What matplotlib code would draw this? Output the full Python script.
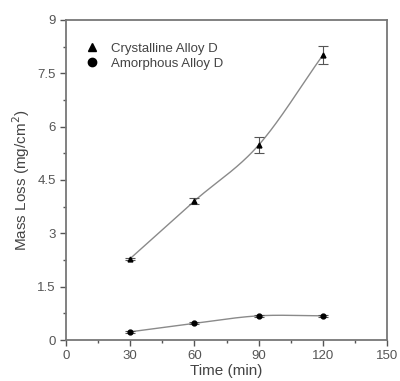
import numpy as np
import matplotlib.pyplot as plt
from matplotlib.lines import Line2D

plt.rcParams['font.family'] = ['Liberation Sans', 'DejaVu Sans']

time_min = [30, 60, 90, 120]
crystalline = [2.29, 3.91, 5.48, 8.01]
crystalline_err = [0.03, 0.08, 0.22, 0.25]
amorphous = [0.23, 0.47, 0.68, 0.68]
amorphous_err = [0.02, 0.03, 0.03, 0.03]

x_ticks = [0, 30, 60, 90, 120, 150]
y_ticks = [0, 1.5, 3, 4.5, 6, 7.5, 9]
y_labels = ['0', '1.5', '3', '4.5', '6', '7.5', '9']


def smooth(x, y, n=60):
    # catmull-rom style hermite curve through the points
    x = np.asarray(x, float)
    y = np.asarray(y, float)
    m = np.empty_like(y)
    m[1:-1] = (y[2:] - y[:-2]) / (x[2:] - x[:-2])
    m[0] = (y[1] - y[0]) / (x[1] - x[0])
    m[-1] = (y[-1] - y[-2]) / (x[-1] - x[-2])
    xs, ys = [], []
    for i in range(len(x) - 1):
        h = x[i + 1] - x[i]
        t = np.linspace(0, 1, n)
        h00 = 2 * t**3 - 3 * t**2 + 1
        h10 = t**3 - 2 * t**2 + t
        h01 = -2 * t**3 + 3 * t**2
        h11 = t**3 - t**2
        xs.append(x[i] + t * h)
        ys.append(h00 * y[i] + h10 * h * m[i] + h01 * y[i + 1] + h11 * h * m[i + 1])
    return np.concatenate(xs), np.concatenate(ys)


fig = plt.figure(figsize=(4, 3.81), dpi=100)
ax = fig.add_axes([0.165, 0.1076, 0.8025, 0.84])

xs, ys = smooth(time_min, crystalline)
ax.plot(xs, ys, color='#8a8a8a', lw=1.0)
xs, ys = smooth(time_min, amorphous)
ax.plot(xs, ys, color='#8a8a8a', lw=1.0)

ax.errorbar(time_min, crystalline, yerr=crystalline_err, fmt='^', color='black',
            ms=3.5, ecolor='#555555', elinewidth=0.8, capsize=3.6, capthick=0.8)
ax.errorbar(time_min, amorphous, yerr=amorphous_err, fmt='o', color='black',
            ms=3.5, ecolor='#555555', elinewidth=0.8, capsize=3.6, capthick=0.8)

ax.set_xlim(0, 150)
ax.set_ylim(0, 9)
ax.set_xticks(x_ticks)
ax.set_xticks(np.arange(15, 150, 30), minor=True)
ax.set_yticks(y_ticks)
ax.set_yticklabels(y_labels)
ax.set_yticks(np.arange(0.75, 9, 1.5), minor=True)

for s in ax.spines.values():
    s.set_color('#777777')
    s.set_linewidth(1.3)
ax.tick_params(which='both', direction='out', colors='#555555', labelsize=9.5,
               top=False, right=False)
ax.tick_params(which='major', length=4, width=1)
ax.tick_params(which='minor', length=2, width=1)

ax.set_xlabel('Time (min)', fontsize=11, color='#444444', labelpad=1)
ax.set_ylabel('Mass Loss (mg/cm$^2$)', fontsize=11, color='#444444', labelpad=4)

handles = [Line2D([], [], ls='none', marker='^', color='black', ms=6),
           Line2D([], [], ls='none', marker='o', color='black', ms=6)]
labels = ['Crystalline Alloy D', 'Amorphous Alloy D']
leg = ax.legend(handles, labels, loc='upper left', frameon=False, fontsize=9.5,
                handlelength=1.0, handletextpad=0.9, labelspacing=0.2,
                borderaxespad=0.0, bbox_to_anchor=(0.045, 0.945))
for t in leg.get_texts():
    t.set_color('#444444')

fig.savefig('out.png', dpi=100)
